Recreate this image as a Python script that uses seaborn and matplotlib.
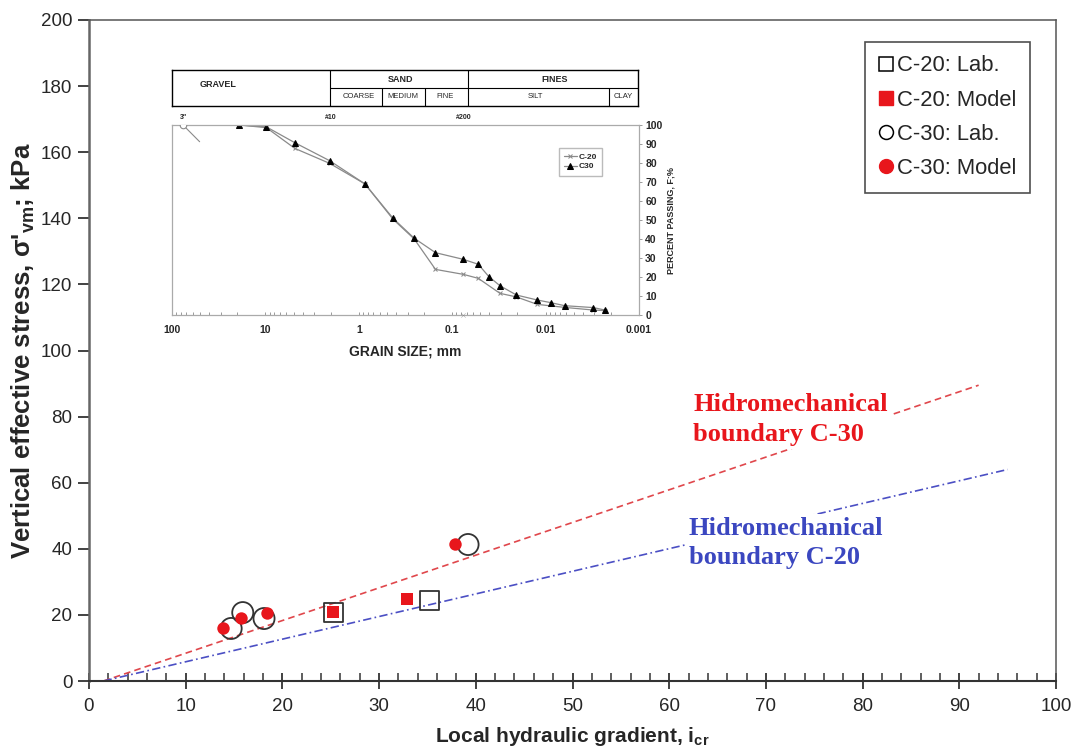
import matplotlib
matplotlib.use("Agg")
import matplotlib.pyplot as plt
from matplotlib.lines import Line2D
from matplotlib.ticker import MultipleLocator, NullFormatter
import seaborn as sns

# ---- main chart data ----
c20_lab_x = [25.3, 35.2]
c20_lab_y = [20.7, 24.4]
c20_mod_x = [25.2, 32.9]
c20_mod_y = [21.0, 24.7]
c30_lab_x = [15.9, 14.7, 18.1, 39.2]
c30_lab_y = [20.7, 15.9, 18.9, 41.3]
c30_mod_x = [13.9, 15.7, 18.4, 37.8]
c30_mod_y = [15.9, 19.2, 20.7, 41.6]

bound_c30_x = [1.5, 92.0]
bound_c30_y = [0.0, 89.5]
bound_c20_x = [1.5, 95.0]
bound_c20_y = [0.0, 64.0]

legend_labels = ["C-20: Lab.", "C-20: Model", "C-30: Lab.", "C-30: Model"]

# ---- inset (grain size curves) data ----
size_c20 = [19.1, 9.75, 4.85, 2.05, 0.86, 0.43, 0.255, 0.151, 0.0762, 0.0526,
            0.0308, 0.0205, 0.0123, 0.00625, 0.00308, 0.00231]
pass_c20 = [100, 98.6, 87.7, 79.8, 69, 50.4, 40, 24, 21.4, 19.3,
            11.4, 9.5, 5.6, 4.0, 2.6, 2.3]
size_c30 = [19.1, 9.75, 4.85, 2.05, 0.86, 0.43, 0.255, 0.151, 0.0762, 0.0526,
            0.0405, 0.0308, 0.0205, 0.0123, 0.0088, 0.00625, 0.00308, 0.00231]
pass_c30 = [100, 99, 90.7, 81.2, 69, 50.9, 40.4, 32.8, 29.3, 26.7,
            20.2, 15.4, 10.5, 7.9, 6.5, 4.9, 3.9, 2.6]
stray_size = [76.2, 50.6]
stray_pass = [100, 91.2]

grain_ticks = [100, 10, 1, 0.1, 0.01, 0.001]
grain_ticklabels = ["100", "10", "1", "0.1", "0.01", "0.001"]
sieve_sizes = [76.2, 2.0, 0.075]
sieve_labels = ['3"', "#10", "#200"]

# header of the gradation chart
major_bounds = [2.0, 0.0674]
minor_bounds = [0.557, 0.193, 0.00205]
top_names = ["GRAVEL", "SAND", "FINES"]
top_pos = [32.0, 0.349, 0.0078]
sub_names = ["COARSE", "MEDIUM", "FINE", "SILT", "CLAY"]
sub_pos = [1.0, 0.335, 0.117, 0.0125, 0.00145]

sns.set_style("white")
plt.rcParams["font.family"] = ["Liberation Sans", "DejaVu Sans"]

W, H = 1072, 746
fig = plt.figure(figsize=(W / 100, H / 100), dpi=100)
ax = fig.add_axes([89 / W, 1 - 681 / H, (1056 - 89) / W, (681 - 20) / H])

axis_col = "#333333"
red = "#e8161c"
sns.lineplot(x=bound_c30_x, y=bound_c30_y, ax=ax, color="#e0474c",
             linestyle=(0, (4, 2.5)), linewidth=1.2, zorder=2)
sns.lineplot(x=bound_c20_x, y=bound_c20_y, ax=ax, color="#4b4fc4",
             linestyle=(0, (5, 2, 1, 2)), linewidth=1.2, zorder=2)

sns.scatterplot(x=c20_lab_x, y=c20_lab_y, ax=ax, marker="s", s=200,
                facecolor="none", edgecolor=axis_col, linewidth=1.3, zorder=3)
sns.scatterplot(x=c30_lab_x, y=c30_lab_y, ax=ax, marker="o", s=230,
                facecolor="none", edgecolor=axis_col, linewidth=1.3, zorder=3)
sns.scatterplot(x=c20_mod_x, y=c20_mod_y, ax=ax, marker="s", s=75,
                color=red, edgecolor=red, linewidth=0, zorder=4)
sns.scatterplot(x=c30_mod_x, y=c30_mod_y, ax=ax, marker="o", s=80,
                color=red, edgecolor=red, linewidth=0, zorder=4)

ax.text(62.5, 87.0, "Hidromechanical\nboundary C-30", color=red,
        family=["Liberation Serif"], fontweight="bold", fontsize=19,
        ha="left", va="top", linespacing=1.35, zorder=5,
        bbox=dict(facecolor="white", edgecolor="none", pad=2))
ax.text(62.0, 49.5, "Hidromechanical\nboundary C-20", color="#3b47c0",
        family=["Liberation Serif"], fontweight="bold", fontsize=19,
        ha="left", va="top", linespacing=1.3, zorder=5,
        bbox=dict(facecolor="white", edgecolor="none", pad=2))

ax.set_xlim(0, 100)
ax.set_ylim(0, 200)
ax.xaxis.set_major_locator(MultipleLocator(10))
ax.xaxis.set_minor_locator(MultipleLocator(2))
ax.yaxis.set_major_locator(MultipleLocator(20))
ax.tick_params(axis="x", which="major", direction="inout", length=11, width=1.3,
               color=axis_col, labelsize=13.5, pad=7, bottom=True)
ax.tick_params(axis="x", which="minor", direction="in", length=6, width=1.1,
               color=axis_col, bottom=True)
ax.tick_params(axis="y", which="major", direction="out", length=8, width=1.3,
               color=axis_col, labelsize=13.5, pad=4, left=True)
for s in ax.spines.values():
    s.set_color("#555555")
    s.set_linewidth(1.1)
ax.spines["bottom"].set_color(axis_col)
ax.spines["bottom"].set_linewidth(1.5)
ax.spines["left"].set_color("#666666")
ax.spines["left"].set_linewidth(1.8)

ax.set_xlabel(r"Local hydraulic gradient, i$_\mathregular{cr}$", fontsize=15,
              fontweight="bold", labelpad=7)
ax.set_ylabel(r"Vertical effective stress, σ'$_\mathregular{vm}$; kPa",
              fontsize=18.5, fontweight="bold", labelpad=3)

handles = [
    Line2D([], [], marker="s", linestyle="none", markersize=10,
           markerfacecolor="none", markeredgecolor="black", markeredgewidth=1.1),
    Line2D([], [], marker="s", linestyle="none", markersize=10,
           markerfacecolor=red, markeredgecolor=red),
    Line2D([], [], marker="o", linestyle="none", markersize=10,
           markerfacecolor="none", markeredgecolor="black", markeredgewidth=1.1),
    Line2D([], [], marker="o", linestyle="none", markersize=10,
           markerfacecolor=red, markeredgecolor=red),
]
leg = ax.legend(handles, legend_labels, loc="upper right",
                bbox_to_anchor=(0.973, 0.967), borderaxespad=0, fontsize=15.8,
                frameon=True, fancybox=False, handlelength=0.7,
                handletextpad=0.15, labelspacing=0.6, borderpad=0.62)
leg.get_frame().set_edgecolor("#222222")
leg.get_frame().set_linewidth(1.2)

# ---- inset gradation chart ----
grey = "#8a8a8a"
ax2 = fig.add_axes([172 / W, 1 - 315 / H, 467 / W, 190 / H])
ax2.set_xscale("log")
sns.lineplot(x=size_c20, y=pass_c20, ax=ax2, sort=False, color=grey,
             linewidth=0.9, marker="x", markersize=3, markeredgecolor=grey,
             label="C-20")
sns.lineplot(x=size_c30, y=pass_c30, ax=ax2, sort=False, color=grey,
             linewidth=0.9, marker="^", markersize=4, markerfacecolor="black",
             markeredgecolor="black", label="C30")
sns.lineplot(x=stray_size, y=stray_pass, ax=ax2, sort=False, color=grey,
             linewidth=0.8)
sns.scatterplot(x=stray_size[:1], y=stray_pass[:1], ax=ax2, marker="o", s=22,
                facecolor="white", edgecolor=grey, linewidth=0.8, zorder=5)
sns.scatterplot(x=[0.076], y=[0], ax=ax2, marker="x", s=10, color=grey,
                zorder=5, clip_on=False)
ax2.set_xlim(100, 0.001)
ax2.set_ylim(0, 100)
ax2.set_xticks(grain_ticks)
ax2.set_xticklabels(grain_ticklabels)
ax2.xaxis.set_minor_formatter(NullFormatter())
ax2.yaxis.tick_right()
ax2.yaxis.set_label_position("right")
ax2.set_yticks(range(0, 101, 10))
ax2.tick_params(axis="x", which="both", direction="in", length=2.5, width=0.6,
                color=grey, labelsize=7.5, pad=7, bottom=True)
ax2.tick_params(axis="y", direction="out", length=2.5, width=0.6, color=grey,
                labelsize=7.5, pad=2, right=True)
for lab in ax2.get_xticklabels() + ax2.get_yticklabels():
    lab.set_fontweight("bold")
for s in ax2.spines.values():
    s.set_color("#aaaaaa")
    s.set_linewidth(0.9)
ax2.set_xlabel("GRAIN SIZE; mm", fontsize=10, fontweight="bold", labelpad=7)
ax2.set_ylabel("PERCENT PASSING, F;%", fontsize=6.5, fontweight="bold",
               labelpad=3)
for sz, lb in zip(sieve_sizes, sieve_labels):
    ax2.text(sz, 102, lb, fontsize=5, fontweight="bold", ha="center",
             va="bottom")
leg2 = ax2.legend(loc="upper right", bbox_to_anchor=(0.93, 0.9), fontsize=6,
                  frameon=True, fancybox=False, handlelength=1.6,
                  handletextpad=0.2, labelspacing=0.2, borderpad=0.6)
leg2.get_frame().set_edgecolor("#aaaaaa")
for t in leg2.get_texts():
    t.set_fontweight("bold")

# header table above the inset
ax3 = fig.add_axes([172 / W, 1 - 106 / H, 466 / W, 36 / H])
ax3.set_xscale("log")
ax3.set_xlim(100, 0.001)
ax3.set_ylim(0, 2)
ax3.set_xticks([])
ax3.set_yticks([])
ax3.minorticks_off()
for s in ax3.spines.values():
    s.set_color("black")
    s.set_linewidth(1.0)
ax3.hlines(1, major_bounds[0], 0.001, color="black", linewidth=0.8)
ax3.vlines(major_bounds, 0, 2, color="black", linewidth=0.8)
ax3.vlines(minor_bounds, 0, 1, color="black", linewidth=0.8)
for i, (p, n) in enumerate(zip(top_pos, top_names)):
    yy = 1.2 if i == 0 else 1.5
    ax3.text(p, yy, n, fontsize=6.5, fontweight="bold", ha="center",
             va="center")
for p, n in zip(sub_pos, sub_names):
    ax3.text(p, 0.5, n, fontsize=5.5, ha="center", va="center")

fig.savefig("out.png", dpi=100)
